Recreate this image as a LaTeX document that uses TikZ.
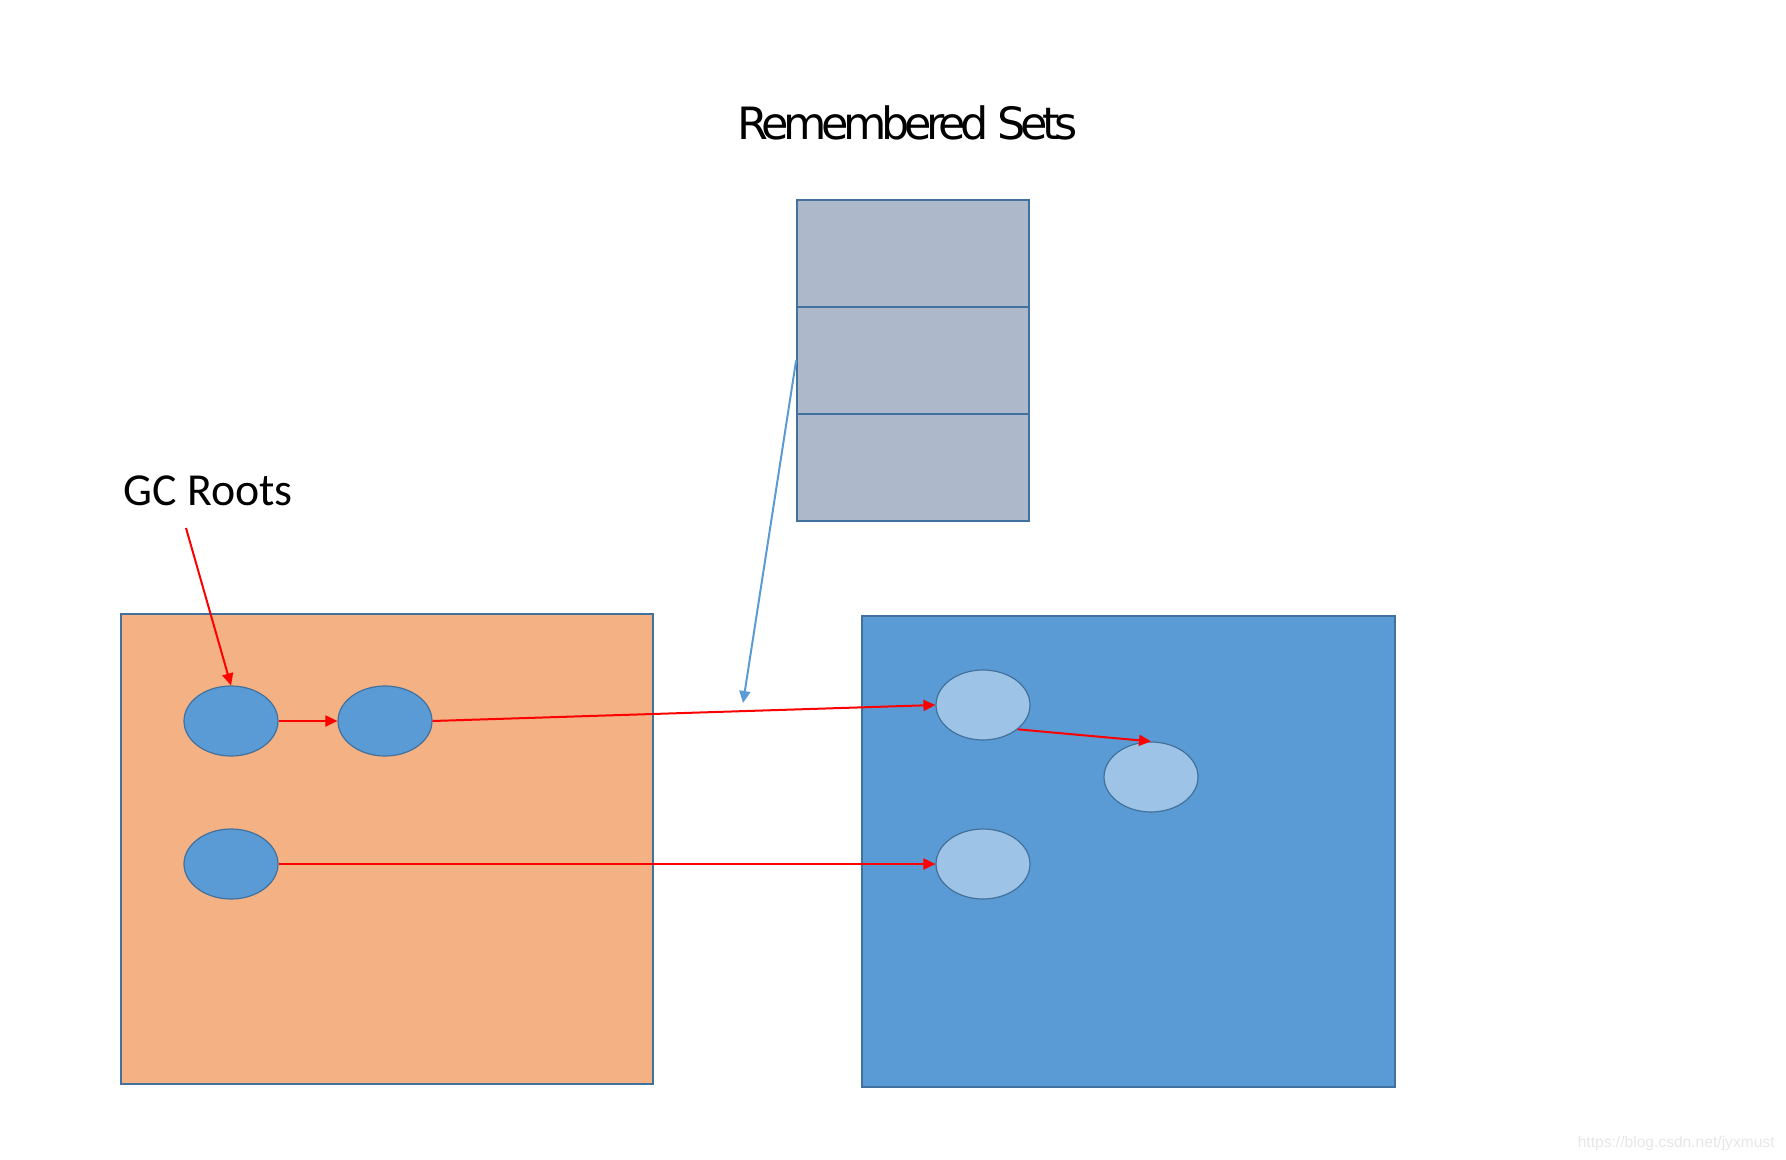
\documentclass[tikz,border=0pt]{standalone}
\usepackage{fontspec}
\usepackage{graphicx}
\setmainfont{DejaVu Sans}
\newfontfamily\calib{Carlito}
\newfontfamily\arialf{Liberation Sans}
\newfontfamily\titlefont[LetterSpace=-12]{DejaVu Sans}
\usetikzlibrary{arrows.meta,shapes.geometric}
\definecolor{orangefill}{HTML}{F4B183}
\definecolor{bluefill}{HTML}{5B9BD5}
\definecolor{lightblue}{HTML}{9DC3E6}
\definecolor{darkblue}{HTML}{41719C}
\definecolor{rsfill}{HTML}{ADB9CA}
\definecolor{wmark}{HTML}{E6E6E6}
\begin{document}
\begin{tikzpicture}[x=0.5pt,y=-0.5pt,
  region/.style={draw=darkblue, line width=0.75pt, fill=#1, inner sep=0pt, minimum width=266pt, minimum height=235pt},
  rscell/.style={draw=darkblue, line width=0.9pt, fill=rsfill, inner sep=0pt, minimum width=116pt, minimum height=53.5pt},
  obj/.style={ellipse, draw=darkblue, line width=0.6pt, fill=#1, inner sep=0pt, minimum width=47pt, minimum height=35pt},
  refarrow/.style={draw=red, line width=1pt, -{Triangle[length=6pt,width=5.5pt]}},
  rsarrow/.style={draw=bluefill, line width=1pt, -{Triangle[length=6pt,width=5.5pt]}}
]
\useasboundingbox (0,0) rectangle (1786,1160);

% regions
\node[region=orangefill] (old) at (387,849) {};
\node[region=bluefill, minimum width=266.5pt, minimum height=235.5pt] (young) at (1128.5,851.5) {};

% remembered sets
\node[rscell] (rs1) at (913,253.5) {};
\node[rscell] (rs2) at (913,360.5) {};
\node[rscell] (rs3) at (913,467.5) {};

% labels
\node[anchor=base west, inner sep=0pt] (rstitle) at (737,140) {\resizebox{170pt}{!}{\titlefont\fontsize{24pt}{28pt}\selectfont Remembered Sets}};
\node[anchor=base west, inner sep=0pt, font=\calib\fontsize{22.9pt}{26pt}\selectfont] (gclabel) at (123,505) {GC Roots};
\node[anchor=base east, inner sep=0pt, text=wmark, font=\arialf\fontsize{7.8pt}{9pt}\selectfont] (wm) at (1775,1147) {https://blog.csdn.net/jyxmust};

% objects
\node[obj=bluefill] (e1) at (231,721) {};
\node[obj=bluefill] (e2) at (385,721) {};
\node[obj=bluefill] (e3) at (231,864) {};
\node[obj=lightblue] (e4) at (983,705) {};
\node[obj=lightblue] (e5) at (1151,777) {};
\node[obj=lightblue] (e6) at (983,864) {};

% connectors
\coordinate (gcstart) at (186,528);
\coordinate (rsend) at (743,703);
\draw[refarrow] (gcstart) -- (e1.north);
\draw[refarrow] (e1.east) -- (e2.west);
\draw[refarrow] (e2.east) -- (e4.west);
\draw[refarrow] (e4.-35) -- (e5.north);
\draw[refarrow] (e3.east) -- (e6.west);
\draw[rsarrow] (rs2.west) -- (rsend);
\end{tikzpicture}
\end{document}
